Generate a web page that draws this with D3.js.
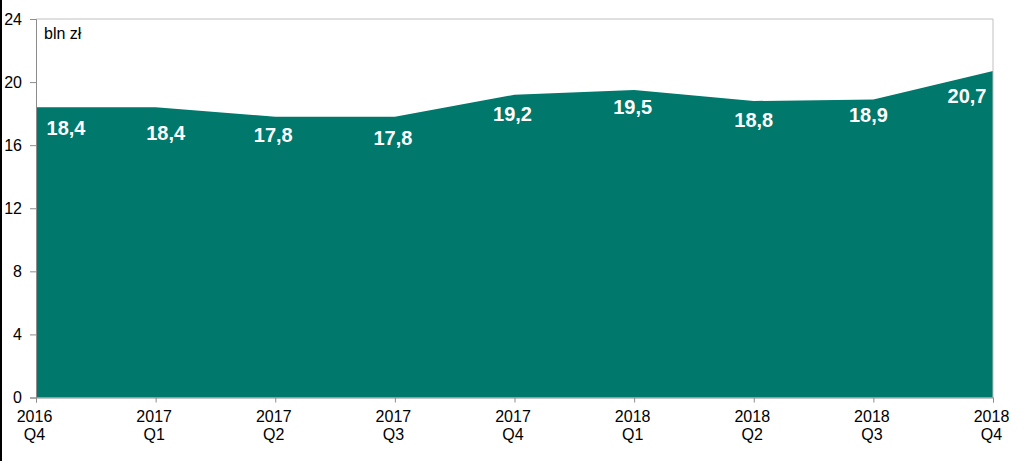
<!DOCTYPE html>
<html><head><meta charset="utf-8">
<script src="https://cdn.jsdelivr.net/npm/d3@7/dist/d3.min.js"></script>
<style>body{margin:0;background:#fff}svg{display:block;font-family:"Liberation Sans",Arial,sans-serif}</style>
</head><body>
<svg id="c" width="1024" height="461"></svg>
<script>
const years = ["2016","2017","2017","2017","2017","2018","2018","2018","2018"];
const quarters = ["Q4","Q1","Q2","Q3","Q4","Q1","Q2","Q3","Q4"];
const values = [18.4,18.4,17.8,17.8,19.2,19.5,18.8,18.9,20.7];
const labels = ["18,4","18,4","17,8","17,8","19,2","19,5","18,8","18,9","20,7"];
const yTicks = [0,4,8,12,16,20,24];
const unit = "bln zł";

// label layout nudges (px), as placed in the reference
const labelDx = [30,10,-2,-2,-2,-1.5,0,-5,-26];
const labelDy = [28,33,25,28,26,24,26,23,32];

const svg = d3.select("#c");
const L=36,R=993,T=19,B=397.5;
const idx = d3.range(values.length);
const x = d3.scalePoint().domain(idx).range([L,R]);
const y = d3.scaleLinear().domain([0,24]).range([B,T]);

svg.append("rect").attr("x",0).attr("y",0).attr("width",2).attr("height",461).attr("fill","#000");

const area = d3.area().x(i=>x(i)).y0(y(0)).y1(i=>y(values[i]));
svg.append("path").datum(idx).attr("d",area).attr("fill","#00786C");

svg.append("path").attr("d",`M${L},${T}H${R}V${B}`).attr("fill","none").attr("stroke","#c0c0c0").attr("stroke-width",1);

const ya = svg.append("g").attr("transform",`translate(${L},0)`)
  .call(d3.axisLeft(y).tickValues(yTicks).tickSize(6).tickPadding(8).tickFormat(d3.format("d")));
ya.select(".domain").attr("stroke","#8c8c8c");
ya.selectAll(".tick line").attr("stroke","#8c8c8c");
ya.selectAll("text").attr("font-size",16).attr("fill","#000").attr("font-family","Liberation Sans, Arial, sans-serif");

const xa = svg.append("g").attr("transform",`translate(0,${B})`)
  .call(d3.axisBottom(x).tickSize(5).tickFormat(""));
xa.select(".domain").attr("stroke","#8c8c8c");
xa.selectAll(".tick line").attr("stroke","#8c8c8c");
const xl = svg.append("g");
idx.forEach(i=>{
  const cx = x(i)-1.5;
  const t = xl.append("text").attr("text-anchor","middle").attr("font-size",16).attr("fill","#000");
  t.append("tspan").attr("x",cx).attr("y",422).text(years[i]);
  t.append("tspan").attr("x",cx).attr("y",439.5).text(quarters[i]);
});

svg.append("text").attr("x",44).attr("y",39).attr("font-size",16).attr("fill","#000").text(unit);

svg.append("g").selectAll("text").data(idx).join("text")
  .attr("x",i=>x(i)+labelDx[i])
  .attr("y",i=>y(values[i])+labelDy[i])
  .attr("text-anchor","middle")
  .attr("font-size",20).attr("font-weight","bold").attr("fill","#fff")
  .text(i=>labels[i]);
</script>
</body></html>
